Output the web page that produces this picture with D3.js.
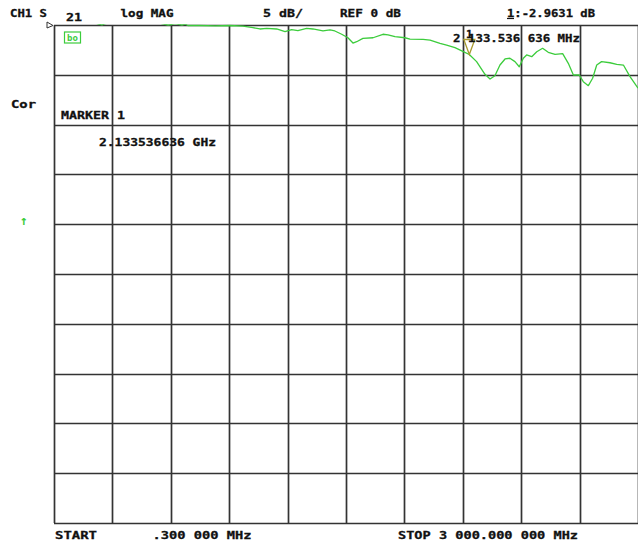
<!DOCTYPE html>
<html>
<head>
<meta charset="utf-8">
<script src="https://cdn.jsdelivr.net/npm/d3@7"></script>
<style>
  html, body { margin: 0; padding: 0; background: #fff; }
  svg { display: block; }
  text { font-family: "DejaVu Sans Mono", "Liberation Mono", monospace; font-weight: bold; font-size: 11px; fill: #111; }
  text.lbl { stroke: #111; stroke-width: 0.3; }
</style>
</head>
<body>
<svg id="chart" width="638" height="544"></svg>
<script>
// Sweep settings
const startMHz = 0.3;
const stopMHz = 3000;
const refDB = 0;
const dbPerDiv = 5;
const divisions = 10;

// S21 log magnitude trace (frequency in MHz, magnitude in dB)
const freqMHz = [0.3, 90, 185, 230, 247, 265, 350, 450, 540, 586, 605, 622, 658, 675, 688, 750, 827, 904, 971,
  1022, 1058, 1093, 1144, 1187, 1221, 1253, 1298, 1330, 1382, 1418, 1443, 1478, 1510, 1536, 1555, 1587, 1639,
  1690, 1716, 1752, 1803, 1829, 1896, 1932, 1983, 2017, 2060, 2103, 2133.536636, 2171, 2214, 2240, 2265, 2291,
  2317, 2342, 2368, 2390, 2411, 2428, 2454, 2480, 2510, 2539, 2574, 2613, 2642, 2668, 2698, 2719, 2745, 2767,
  2788, 2813, 2856, 2891, 2925, 2959, 3000];
const magDB = [0.6, 0.5, 0.35, 0.1, 0.0, 0.15, 0.4, 0.35, 0.2, 0.0, 0.05, 0.15, 0.0, 0.08, -0.05, -0.05, -0.08, -0.05, -0.12,
  -0.27, -0.40, -0.33, -0.40, -0.67, -0.47, -0.57, -0.33, -0.40, -0.60, -0.50, -0.60, -0.93, -1.28, -1.81, -1.68, -1.34, -1.28,
  -0.93, -1.00, -1.17, -1.28, -1.41, -1.44, -1.51, -1.84, -2.01, -2.28, -2.68, -2.9631, -3.68, -4.95, -5.42, -5.09, -4.02,
  -3.41, -3.34, -3.68, -4.19, -3.34, -3.01, -3.18, -2.68, -2.34, -2.74, -2.94, -2.88, -3.85, -5.02, -5.02, -5.69, -6.09, -5.35,
  -4.02, -3.68, -3.79, -3.95, -4.02, -5.19, -6.35];

// Marker 1
const markerFreqMHz = 2133.536636;
const markerDB = -2.9631;

// Annotation text
const headerLabels = ["CH1 S", "21", "log MAG", dbPerDiv + " dB/", "REF " + refDB + " dB"];
const sideLabels = ["Cor", "MARKER 1"];

function fmtMHz(v) {
  const [ip, fp] = v.toFixed(6).split(".");
  const intStr = ip === "0" ? "" : ip.replace(/\B(?=(\d{3})+(?!\d))/g, " ");
  return intStr + "." + fp.slice(0, 3) + " " + fp.slice(3) + " MHz";
}

const svg = d3.select("#chart");
const plotLeft = 54, plotRight = 638, plotTop = 25, plotBottom = 523;

const x = d3.scaleLinear().domain([startMHz, stopMHz]).range([plotLeft, plotRight]);
const y = d3.scaleLinear().domain([refDB - dbPerDiv * divisions, refDB]).range([plotBottom, plotTop]);

const xGrid = d3.range(divisions + 1).map(i => startMHz + i * (stopMHz - startMHz) / divisions);
const yGrid = d3.range(divisions + 1).map(i => refDB - i * dbPerDiv);

// Graticule
const grid = svg.append("g").attr("stroke", "#333").attr("stroke-width", 1.7);
grid.selectAll("line.v").data(xGrid).join("line").attr("class", "v")
  .attr("x1", d => Math.round(x(d)) + 0.5).attr("x2", d => Math.round(x(d)) + 0.5)
  .attr("y1", plotTop).attr("y2", plotBottom);
grid.selectAll("line.h").data(yGrid).join("line").attr("class", "h")
  .attr("y1", d => Math.round(y(d)) + 0.5).attr("y2", d => Math.round(y(d)) + 0.5)
  .attr("x1", plotLeft).attr("x2", plotRight);

// Reference position arrow
svg.append("path")
  .attr("d", `M${plotLeft - 7},${plotTop - 3} L${plotLeft - 1},${plotTop + 0.5} L${plotLeft - 7},${plotTop + 3} Z`)
  .attr("fill", "#fff").attr("stroke", "#333").attr("stroke-width", 1);

// Trace, clipped to the graticule
svg.append("clipPath").attr("id", "plotClip").append("rect")
  .attr("x", plotLeft).attr("y", plotTop - 0.8).attr("width", plotRight - plotLeft).attr("height", plotBottom - plotTop + 1);

const points = freqMHz.map((f, i) => [f, magDB[i]]);
svg.append("path")
  .datum(points)
  .attr("clip-path", "url(#plotClip)")
  .attr("fill", "none")
  .attr("stroke", "#3ccc3c")
  .attr("stroke-width", 1.3)
  .attr("stroke-linejoin", "round")
  .attr("d", d3.line().x(d => x(d[0])).y(d => y(d[1])));

// Marker 1 symbol
const mx = x(markerFreqMHz), my = y(markerDB);
svg.append("path")
  .attr("d", `M${mx},${my} L${mx - 5.5},${my - 15} L${mx + 5.5},${my - 15} Z`)
  .attr("fill", "none").attr("stroke", "#a89a30").attr("stroke-width", 1.3);

// Annotation rows
const labels = [
  { t: headerLabels[0], x: 10, y: 17, w: 37 },
  { t: headerLabels[1], x: 66, y: 21, w: 16 },
  { t: headerLabels[2], x: 120.5, y: 17, w: 53 },
  { t: headerLabels[3], x: 263, y: 17, w: 40 },
  { t: headerLabels[4], x: 340, y: 17, w: 61 },
  { t: "1:" + markerDB.toFixed(4) + " dB", x: 507, y: 17, w: 88 },
  { t: fmtMHz(markerFreqMHz), x: 453, y: 42, w: 127 },
  { t: sideLabels[0], x: 11, y: 108, w: 25 },
  { t: sideLabels[1], x: 61, y: 119, w: 64 },
  { t: (markerFreqMHz / 1000).toFixed(9) + " GHz", x: 99, y: 146, w: 117 },
  { t: "START", x: 55, y: 539, w: 42 },
  { t: fmtMHz(startMHz), x: 152.5, y: 539, w: 99 },
  { t: "STOP " + fmtMHz(stopMHz), x: 398, y: 539, w: 180 }
];
svg.append("g").selectAll("text").data(labels).join("text")
  .attr("class", "lbl")
  .attr("x", d => d.x).attr("y", d => d.y)
  .attr("textLength", d => d.w).attr("lengthAdjust", "spacingAndGlyphs")
  .text(d => d.t);

// Underline on the active-marker number
svg.append("line").attr("x1", 507).attr("x2", 514).attr("y1", 18.5).attr("y2", 18.5)
  .attr("stroke", "#111").attr("stroke-width", 1.2);

// Marker number above the symbol
svg.append("text").attr("class", "lbl").attr("x", mx).attr("y", my - 17)
  .attr("text-anchor", "middle").text("1");

// Smoothing / averaging status box
svg.append("rect").attr("x", 64.5).attr("y", 32).attr("width", 16).attr("height", 11)
  .attr("fill", "none").attr("stroke", "#3ccc3c").attr("stroke-width", 1.2);
svg.append("text").attr("x", 72.5).attr("y", 41).attr("text-anchor", "middle")
  .style("fill", "#3ccc3c").style("font-size", "9px").style("font-weight", "bold").text("bo");

// Trace scale indicator
svg.append("text").attr("x", 24).attr("y", 225).attr("text-anchor", "middle")
  .style("fill", "#3ccc3c").style("font-size", "13px").style("font-weight", "bold").text("↑");
</script>
</body>
</html>
